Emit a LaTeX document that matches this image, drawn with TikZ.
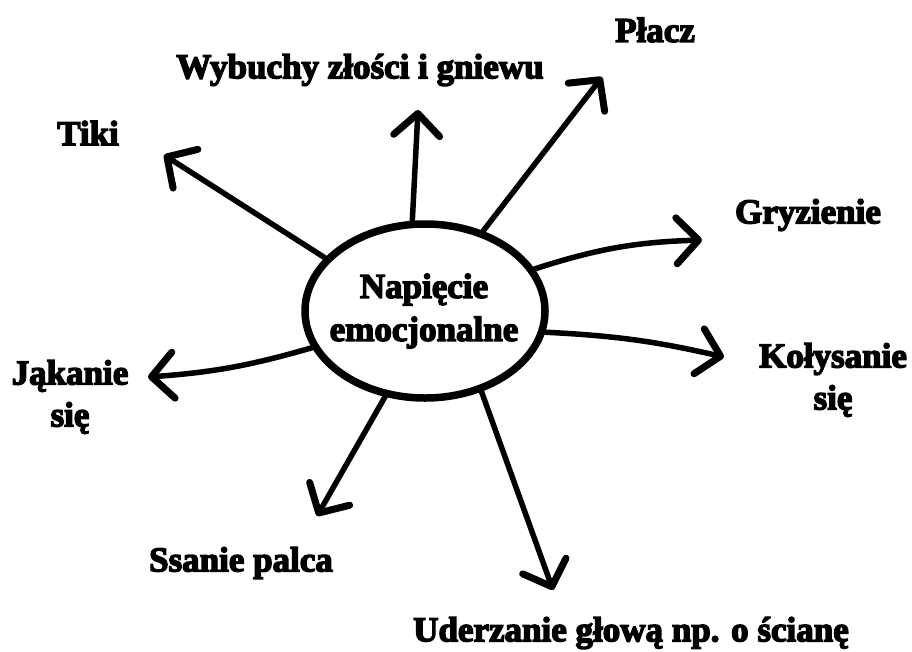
\documentclass[tikz,border=0pt]{standalone}
\usepackage{fontspec}
\setmainfont{Liberation Serif}[BoldFeatures={FakeBold=4}]
\usetikzlibrary{arrows.meta,shapes.geometric}
\tikzset{
  lbl/.style={font=\fontsize{35}{42}\selectfont\bfseries, inner sep=0pt, align=center},
  arr/.style={line width=5.5pt, line cap=round,
    -{Straight Barb[length=22pt,width=46pt,line width=7pt,line cap=round,round]}},
  blob/.style={draw, ellipse, line width=7.5pt, minimum width=240pt, minimum height=174pt, inner sep=0pt}
}
\begin{document}
\begin{tikzpicture}[x=1pt,y=-1pt]
\useasboundingbox[fill=white] (0,0) rectangle (912,651);
\node[blob] (c) at (425,311) {};
\node[lbl, font=\fontsize{35}{43}\selectfont\bfseries] (ct) at (424,311) {Napięcie\\emocjonalne};

\coordinate (tTiki) at (164,155);
\coordinate (tWyb) at (418,110);
\coordinate (tPlacz) at (602,77);
\coordinate (tGry) at (702,240);
\coordinate (tKol) at (724,357);
\coordinate (tJak) at (148,377);
\coordinate (tSsa) at (317,516);
\coordinate (tUde) at (553,590);

\draw[arr] (c.152) -- (tTiki);
\draw[arr] (c.98) -- (tWyb);
\draw[arr] (c.54) -- (tPlacz);
\draw[arr] (c.21) to[bend left=8] (tGry);
\draw[arr] (c.-10) to[bend left=5] (tKol);
\draw[arr] (c.198) to[bend left=6] (tJak);
\draw[arr] (c.245) -- (tSsa);
\draw[arr] (c.305) -- (tUde);

\node[lbl] (lTiki) at (88,133) {Tiki};
\node[lbl] (lWyb) at (360,70) {Wybuchy złości i gniewu};
\node[lbl] (lPlacz) at (655,30) {Płacz};
\node[lbl] (lGry) at (808,215) {Gryzienie};
\node[lbl] (lKol) at (833,380) {Kołysanie\\się};
\node[lbl] (lJak) at (70,397) {Jąkanie\\się};
\node[lbl] (lSsa) at (241,563) {Ssanie palca};
\node[lbl] (lUde) at (631,633) {Uderzanie głową np. o ścianę};
\end{tikzpicture}
\end{document}
